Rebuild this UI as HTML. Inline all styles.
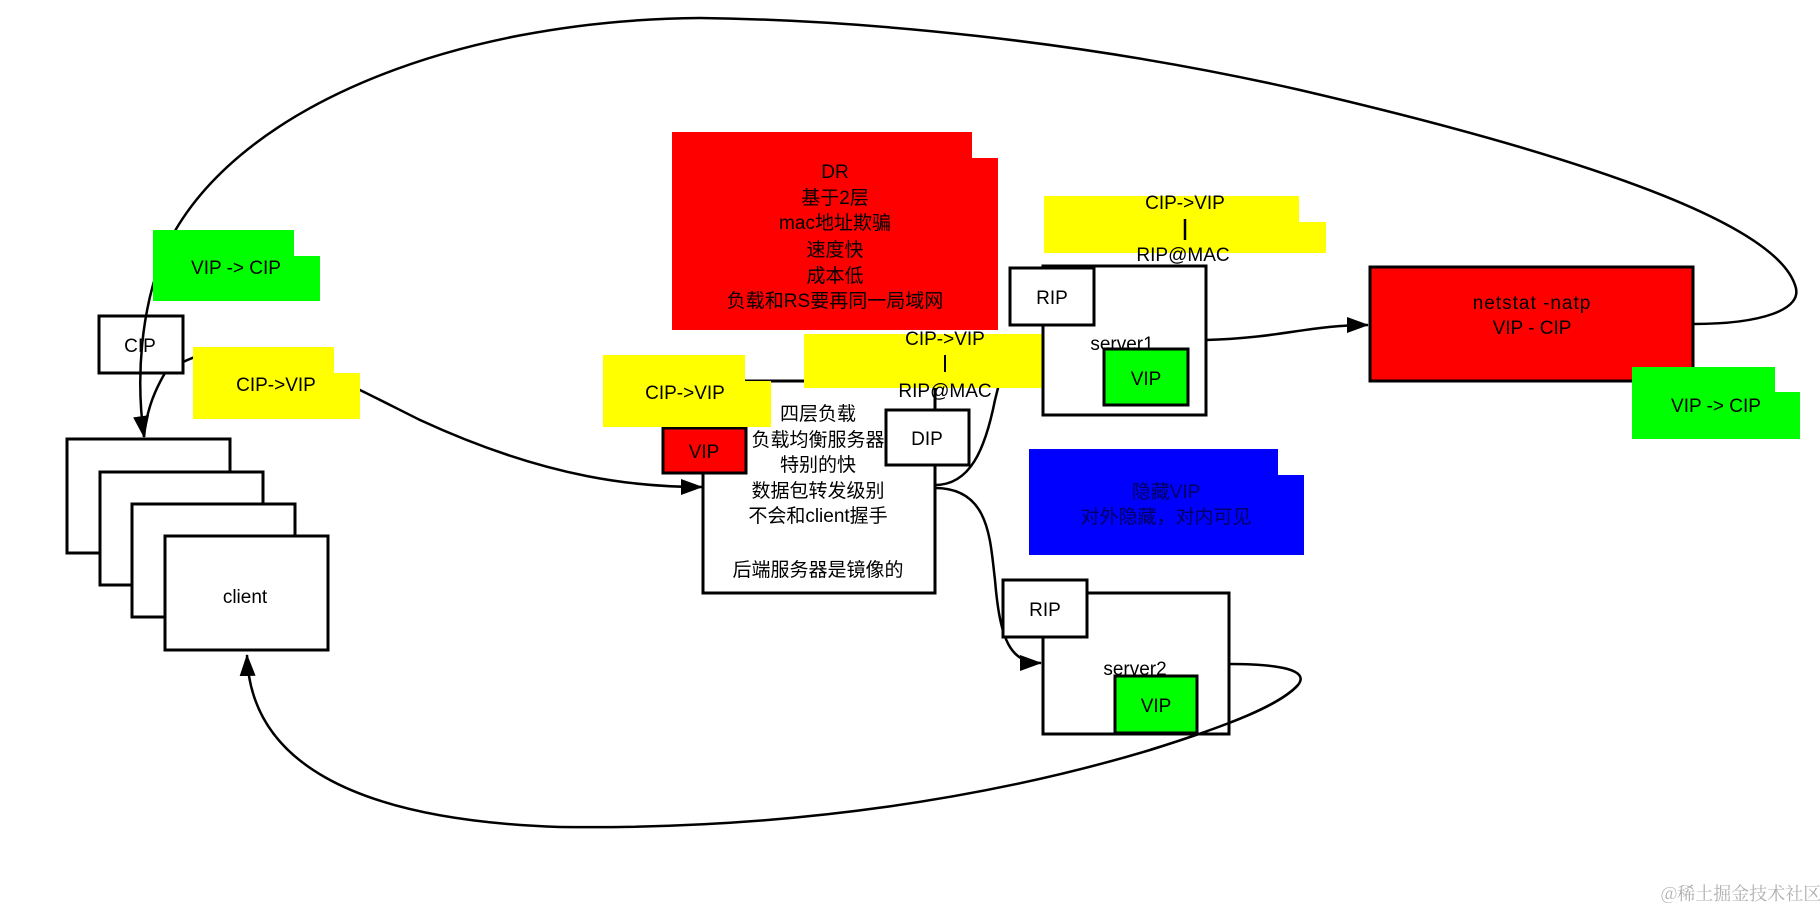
<!DOCTYPE html>
<html><head><meta charset="utf-8"><style>
html,body{margin:0;padding:0;background:#fff;}
svg{display:block;}
text{font-family:"Liberation Sans","Noto Sans CJK SC",sans-serif;font-size:19px;fill:#000;text-anchor:middle;}
</style></head><body>
<svg width="1820" height="910" viewBox="0 0 1820 910" xmlns="http://www.w3.org/2000/svg">
<defs>
<marker id="ar" markerWidth="22" markerHeight="16" refX="21" refY="8" orient="auto" markerUnits="userSpaceOnUse">
<path d="M0,0 L22,8 L0,16 z" fill="#000"/>
</marker>
</defs>

<!-- top big loop: netstat -> client -->
<path d="M1693,324 C1760,324 1805,310 1795,285 C1775,225 1600,160 1300,90 C1080,40 860,20 700,18 C450,20 230,110 165,250 C140,310 136,380 144,437" fill="none" stroke="#000" stroke-width="2.5" marker-end="url(#ar)"/>
<!-- CIP to client small -->
<path d="M165,373 C152,395 146,415 144,437" fill="none" stroke="#000" stroke-width="2.5"/>
<!-- CIP to LB -->
<path d="M183,362 C250,330 300,360 420,420 C550,480 640,487 702,487" fill="none" stroke="#000" stroke-width="2.5" marker-end="url(#ar)"/>

<!-- bottom loop server2 -> client -->
<path d="M1229,664 C1280,664 1310,670 1298,685 C1280,705 1230,725 1150,750 C1000,795 800,830 560,827 C350,820 250,760 247,655" fill="none" stroke="#000" stroke-width="2.5" marker-end="url(#ar)"/>

<!-- LB to server2 -->
<path d="M935,488 C990,488 990,540 995,580 C1000,640 1010,663 1041,663" fill="none" stroke="#000" stroke-width="2.5" marker-end="url(#ar)"/>
<!-- LB to server1 via DIP -->
<path d="M935,485 C970,485 985,450 995,400 L1000,380" fill="none" stroke="#000" stroke-width="2.5"/>
<!-- server1 to netstat -->
<path d="M1206,340 C1280,338 1310,325 1368,325" fill="none" stroke="#000" stroke-width="2.5" marker-end="url(#ar)"/>
<!-- DIP up -->
<line x1="935" y1="410" x2="935" y2="395" stroke="#000" stroke-width="2.5"/>

<!-- client stack -->
<rect x="67" y="439" width="163" height="114" fill="#fff" stroke="#000" stroke-width="3"/>
<rect x="100" y="472" width="163" height="113" fill="#fff" stroke="#000" stroke-width="3"/>
<rect x="132" y="504" width="163" height="113" fill="#fff" stroke="#000" stroke-width="3"/>
<rect x="165" y="536" width="163" height="114" fill="#fff" stroke="#000" stroke-width="3"/>
<text x="245" y="603">client</text>

<!-- CIP box -->
<rect x="99" y="316" width="84" height="57" fill="none" stroke="#000" stroke-width="3"/>
<text x="140" y="352">CIP</text>

<!-- green note left -->
<path d="M153,230 H294 V256 H320 V301 H153 Z" fill="#00ff00"/>
<text x="236" y="274">VIP -&gt; CIP</text>
<!-- yellow note left -->
<path d="M193,347 H334 V373 H360 V419 H193 Z" fill="#ffff00"/>
<text x="276" y="391">CIP-&gt;VIP</text>

<!-- LB box -->
<rect x="703" y="381" width="232" height="212" fill="#fff" stroke="#000" stroke-width="3"/>
<text x="818" y="420">四层负载</text>
<text x="818" y="446">负载均衡服务器</text>
<text x="818" y="471">特别的快</text>
<text x="818" y="497">数据包转发级别</text>
<text x="818" y="522">不会和client握手</text>
<text x="818" y="576">后端服务器是镜像的</text>

<!-- VIP red small -->
<rect x="663" y="428" width="83" height="45" fill="#ff0000" stroke="#000" stroke-width="3"/>
<text x="704" y="458">VIP</text>

<!-- yellow LB note -->
<path d="M603,355 H745 V381 H771 V427 H603 Z" fill="#ffff00"/>
<text x="685" y="399">CIP-&gt;VIP</text>

<!-- DIP box -->
<rect x="886" y="410" width="83" height="55" fill="#fff" stroke="#000" stroke-width="3"/>
<text x="927" y="445">DIP</text>

<!-- Red DR note -->
<path d="M672,132 H972 V158 H998 V330 H672 Z" fill="#ff0000"/>
<text x="835" y="178">DR</text>
<text x="835" y="204">基于2层</text>
<text x="835" y="229">mac地址欺骗</text>
<text x="835" y="256">速度快</text>
<text x="835" y="282">成本低</text>
<text x="835" y="307">负载和RS要再同一局域网</text>

<!-- yellow middle note -->
<path d="M804,334 H1058 V358 H1085 V388 H804 Z" fill="#ffff00"/>
<text x="945" y="345">CIP-&gt;VIP</text>
<line x1="945" y1="355" x2="945" y2="372" stroke="#000" stroke-width="2"/>
<text x="945" y="397">RIP@MAC</text>

<!-- server1 -->
<rect x="1043" y="266" width="163" height="149" fill="#fff" stroke="#000" stroke-width="3"/>
<rect x="1010" y="268" width="84" height="57" fill="#fff" stroke="#000" stroke-width="3"/>
<text x="1052" y="304">RIP</text>
<text x="1122" y="350">server1</text>
<rect x="1104" y="349" width="84" height="56" fill="#00ff00" stroke="#000" stroke-width="3"/>
<text x="1146" y="385">VIP</text>

<!-- yellow top note -->
<path d="M1044,196 H1299 V222 H1326 V253 H1044 Z" fill="#ffff00"/>
<text x="1185" y="209">CIP-&gt;VIP</text>
<line x1="1185" y1="219" x2="1185" y2="240" stroke="#000" stroke-width="2.5"/>
<text x="1183" y="261">RIP@MAC</text>

<!-- netstat -->
<rect x="1370" y="267" width="323" height="114" fill="#ff0000" stroke="#000" stroke-width="3"/>
<text x="1532" y="309" style="letter-spacing:1px">netstat -natp</text>
<text x="1532" y="334">VIP - CIP</text>

<!-- green right note -->
<path d="M1632,367 H1775 V392 H1800 V439 H1632 Z" fill="#00ff00"/>
<text x="1716" y="412">VIP -&gt; CIP</text>

<!-- blue note -->
<path d="M1029,449 H1278 V475 H1304 V555 H1029 Z" fill="#0000ff"/>
<text x="1166" y="498" style="fill:#000060">隐藏VIP</text>
<text x="1166" y="523" style="fill:#000060">对外隐藏，对内可见</text>

<!-- server2 -->
<rect x="1043" y="593" width="186" height="141" fill="#fff" stroke="#000" stroke-width="3"/>
<rect x="1003" y="580" width="84" height="57" fill="#fff" stroke="#000" stroke-width="3"/>
<text x="1045" y="616">RIP</text>
<text x="1135" y="675">server2</text>
<rect x="1115" y="676" width="82" height="57" fill="#00ff00" stroke="#000" stroke-width="3"/>
<text x="1156" y="712">VIP</text>
<!-- loop crossing over VIP -->
<path d="M1298,685 C1280,705 1230,725 1150,750" fill="none" stroke="#000" stroke-width="2.5"/>

<!-- watermark -->
<text x="1741" y="900" style="font-size:18px;fill:#b0b0b0;font-family:'Noto Serif CJK SC','Noto Sans CJK SC',serif">@稀土掘金技术社区</text>
</svg>
</body></html>
